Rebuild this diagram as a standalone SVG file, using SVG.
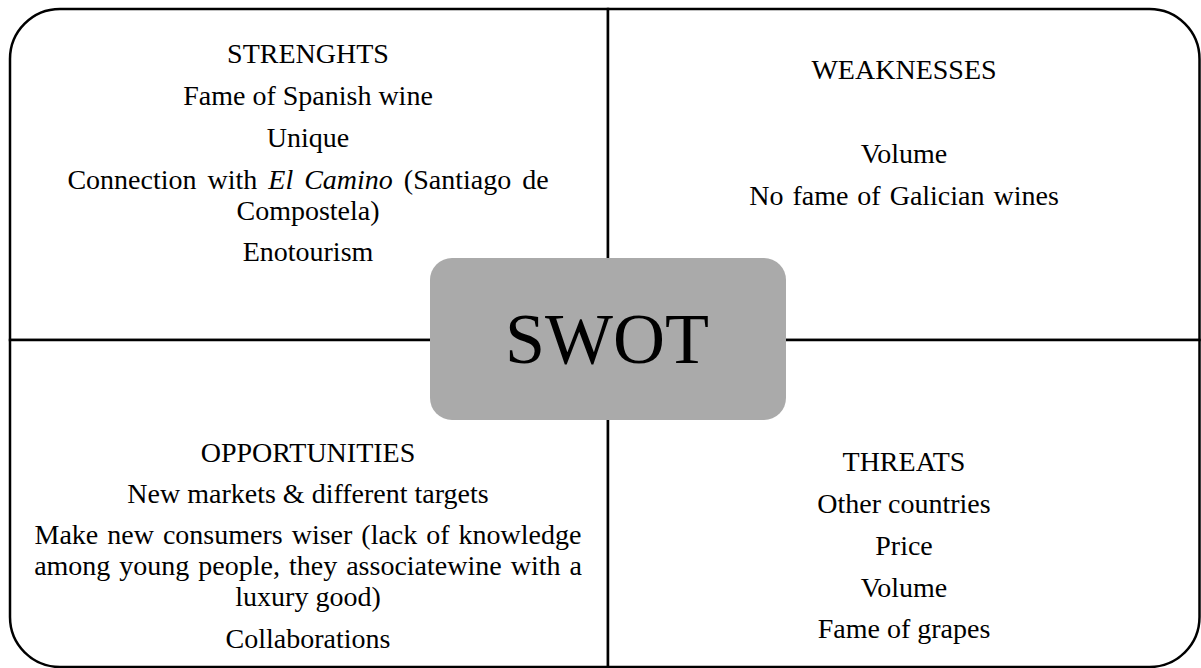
<svg xmlns="http://www.w3.org/2000/svg" width="1201" height="668" viewBox="0 0 1201 668">
<style>
.q{fill:#fff;stroke:#000;stroke-width:2.5}
.t{font-family:'Liberation Serif','Times New Roman',Times,'DejaVu Serif',serif;font-size:28px;fill:#000;text-anchor:middle}
.big{font-family:'Liberation Serif','Times New Roman',Times,'DejaVu Serif',serif;font-size:72px;fill:#000;text-anchor:middle}
.it{font-style:italic}
</style>
<rect width="1201" height="668" fill="#fff"/>
<g id="strengths">
<path class="q" d="M10,340 V59 A50,50 0 0 1 60,9 H608 V340 Z"/>
<text class="t" x="308" y="63">STRENGHTS</text>
<text class="t" x="308" y="105">Fame of Spanish wine</text>
<text class="t" x="308" y="147">Unique</text>
<text class="t" x="308" y="189" word-spacing="4">Connection with <tspan class="it">El Camino</tspan> (Santiago de</text>
<text class="t" x="308" y="220">Compostela)</text>
<text class="t" x="308" y="261">Enotourism</text>
</g>
<g id="weaknesses">
<path class="q" d="M608,9 H1149.5 A50,50 0 0 1 1199.5,59 V340 H608 Z"/>
<text class="t" x="904" y="79">WEAKNESSES</text>
<text class="t" x="904" y="163">Volume</text>
<text class="t" x="904" y="205" word-spacing="2">No fame of Galician wines</text>
</g>
<g id="opportunities">
<path class="q" d="M10,340 H608 V667 H60 A50,50 0 0 1 10,617 Z"/>
<text class="t" x="308" y="462">OPPORTUNITIES</text>
<text class="t" x="308" y="503">New markets &amp; different targets</text>
<text class="t" x="308" y="544" word-spacing="2">Make new consumers wiser (lack of knowledge</text>
<text class="t" x="308" y="575" word-spacing="2">among young people, they associatewine with a</text>
<text class="t" x="308" y="606">luxury good)</text>
<text class="t" x="308" y="648">Collaborations</text>
</g>
<g id="threats">
<path class="q" d="M608,340 H1199.5 V617 A50,50 0 0 1 1149.5,667 H608 Z"/>
<text class="t" x="904" y="471">THREATS</text>
<text class="t" x="904" y="513">Other countries</text>
<text class="t" x="904" y="555">Price</text>
<text class="t" x="904" y="597">Volume</text>
<text class="t" x="904" y="638">Fame of grapes</text>
</g>
<g id="connectors"></g>
<g id="swot">
<rect x="430" y="258" width="356" height="162" rx="22" ry="22" fill="#aaaaaa"/>
<text class="big" x="607" y="363">SWOT</text>
</g>
</svg>
